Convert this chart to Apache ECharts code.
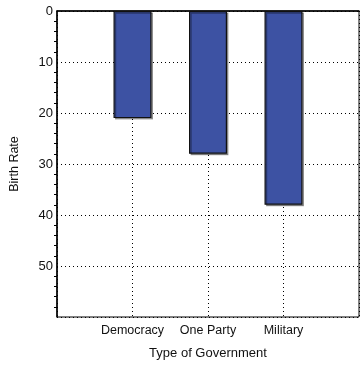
<!DOCTYPE html>
<html>
<head>
<meta charset="utf-8">
<script src="https://cdn.jsdelivr.net/npm/echarts@6/dist/echarts.min.js"></script>
<style>html,body{margin:0;padding:0;background:#fff}#c{width:362px;height:365px}</style>
</head>
<body>
<div id="c"></div>
<script>
var categories = ['', 'Democracy', 'One Party', 'Military', ''];
var birthRate = ['-', 21, 28, 38, '-'];
var yTicks = [0, 10, 20, 30, 40, 50];

var chart = echarts.init(document.getElementById('c'), null, {renderer: 'canvas'});
var font = '"Liberation Sans", Arial, sans-serif';
chart.setOption({
  animation: false,
  backgroundColor: '#fff',
  grid: {left: 53, right: 1, top: 11, bottom: 46, show: true, borderColor: '#000', borderWidth: 1, backgroundColor: 'transparent'},
  xAxis: {
    type: 'category',
    data: categories,
    boundaryGap: false,
    name: 'Type of Government',
    nameLocation: 'middle',
    nameGap: 30,
    nameTextStyle: {fontFamily: font, fontSize: 13, color: '#111'},
    axisLine: {lineStyle: {color: '#000', width: 1.5}},
    axisTick: {show: false},
    axisLabel: {fontFamily: font, fontSize: 12.5, color: '#111', margin: 7, interval: 0},
    splitLine: {show: true, lineStyle: {color: '#000', type: [1, 3], width: 1}}
  },
  yAxis: {
    type: 'value',
    inverse: true,
    min: 0,
    max: 60,
    interval: 10,
    name: 'Birth Rate',
    nameLocation: 'middle',
    nameGap: 36,
    nameTextStyle: {fontFamily: font, fontSize: 12.5, color: '#111'},
    axisLine: {show: true, lineStyle: {color: '#000', width: 1.5}},
    axisTick: {show: false},
    minorTick: {show: true, splitNumber: 5, length: 3, lineStyle: {color: '#000'}},
    axisLabel: {fontFamily: font, fontSize: 13, color: '#111', margin: 4, showMaxLabel: false,
      formatter: function (v) { return yTicks.indexOf(v) >= 0 ? String(v) : ''; }},
    splitLine: {show: true, lineStyle: {color: '#000', type: [1, 3], width: 1}}
  },
  series: [{
    type: 'bar',
    data: birthRate,
    barWidth: 38,
    itemStyle: {color: '#3d52a3', borderColor: '#111', borderWidth: 1.2, shadowColor: 'rgba(0,0,0,0.35)', shadowOffsetX: 1.5, shadowOffsetY: 1.5, shadowBlur: 0}
  }]
});
</script>
</body>
</html>
